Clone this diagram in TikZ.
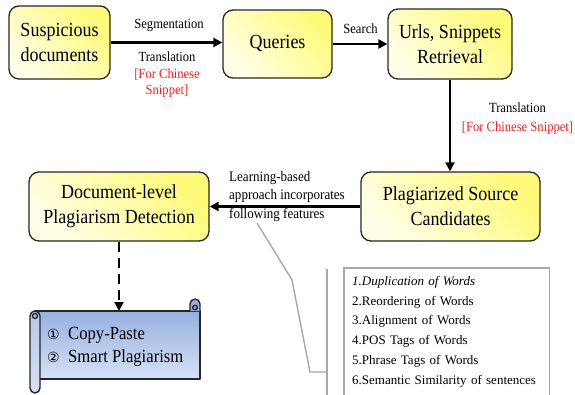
\documentclass[tikz,border=0pt]{standalone}
\usepackage{fontspec}
\setmainfont{Liberation Serif}
\newfontfamily\condfont{Liberation Serif}[FakeStretch=0.9]
\newfontfamily\symfont{DejaVu Sans}
\usetikzlibrary{arrows.meta}

\definecolor{ylo}{RGB}{255,255,232}
\definecolor{yhi}{RGB}{255,250,120}
\definecolor{featgray}{RGB}{168,168,168}
\definecolor{notered}{RGB}{255,32,32}
\definecolor{scrtop}{RGB}{150,176,224}
\definecolor{scrbot}{RGB}{214,225,245}

\begin{document}
\begin{tikzpicture}[x=1pt,y=-1pt,
  stage/.style={draw=black!85, line width=1.3pt, rounded corners=10pt,
    top color=yhi, bottom color=ylo, shading angle=-45, align=center,
    font=\condfont\fontsize{20}{25}\selectfont, inner sep=2pt},
  lbl/.style={inner sep=0pt, font=\condfont\fontsize{14}{16.5}\selectfont},
  arr/.style={line width=2.4pt, -{Triangle[length=9pt,width=9pt]}},
  callout/.style={draw=featgray, line width=1.4pt},
  scrollline/.style={draw=black!85, line width=1.4pt, line join=round}]

\useasboundingbox (0,0) rectangle (575,395);

% process stages
\node[stage, minimum width=101pt, minimum height=73pt] (susp) at (59.5,42.5) {Suspicious\\documents};
\node[stage, minimum width=109pt, minimum height=68pt] (qry) at (277.5,44) {Queries};
\node[stage, minimum width=124pt, minimum height=70pt] (urls) at (450,44) {Urls, Snippets\\Retrieval};
\node[stage, minimum width=179pt, minimum height=69pt] (cand) at (450.5,206.5) {Plagiarized Source\\Candidates};
\node[stage, minimum width=180pt, minimum height=69pt] (det) at (119,206.5) {Document-level\\Plagiarism Detection};

% edge labels
\node[lbl] (segm) at (169,25) {Segmentation};
\node[lbl, align=center] (trans1) at (167,75) {Translation\\\textcolor{notered}{[For Chinese}\\\textcolor{notered}{Snippet]}};
\node[lbl] (srch) at (360.5,29) {Search};
\node[lbl, align=center, font=\condfont\fontsize{14}{19}\selectfont] (trans2) at (517.5,118.5) {Translation\\\textcolor{notered}{[For Chinese Snippet]}};
\node[lbl, align=left, anchor=west, font=\condfont\fontsize{14.5}{18.5}\selectfont] (learn) at (229,196.5) {Learning-based\\approach incorporates\\following features};

% connectors
\draw[arr] (susp.east) -- (susp.east -| qry.west);
\draw[arr] (qry.east) -- (qry.east -| urls.west);
\draw[arr] (urls.south) -- (urls.south |- cand.north);
\draw[arr] (cand.west) -- (cand.west -| det.east);

% result scroll
\coordinate (rolltop) at (118,311);
\draw[arr, dash pattern=on 10pt off 6pt] (det.south) -- (det.south |- rolltop);

\path[scrollline, top color=scrtop, bottom color=scrbot]
  (35,311) -- (200,311) -- (200,379) -- (35,379) -- cycle;
% right curl
\path[scrollline, fill=scrtop]
  (190,311) -- (190,304) arc[start angle=180, end angle=360, radius=5] -- (200,311);
\draw[scrollline] (195,307.5) circle[radius=2.3];
% left roll
\path[scrollline, top color=scrtop!70!white, bottom color=scrbot]
  (30,316) -- (30,388) arc[start angle=180, end angle=0, radius=5] -- (40,316)
  arc[start angle=0, end angle=-180, radius=5] -- cycle;
\draw[scrollline] (35,316) circle[radius=2.5];

\node[inner sep=0pt, align=left, anchor=west, font=\condfont\fontsize{18.5}{23}\selectfont] (kinds) at (47,346.5)
  {\makebox[21pt][l]{\symfont\fontsize{14}{14}\selectfont ①}Copy-Paste\\
   \makebox[21pt][l]{\symfont\fontsize{14}{14}\selectfont ②}Smart Plagiarism};

% feature list
\node[anchor=north west, minimum width=205pt, minimum height=127pt, align=left,
  text width=189pt, inner xsep=8pt, inner ysep=0pt, font=\fontsize{13}{19.8}\selectfont] (feat) at (344,268)
  {\textit{1.Duplication of Words}\\2.Reordering of Words\\3.Alignment of Words\\4.POS Tags of Words\\5.Phrase Tags of Words\\6.Semantic Similarity of sentences};
\draw[callout] (feat.south west) -- (feat.north west) -- (feat.north east) -- (feat.south east);

% callout from the feature label to the list
\coordinate (c1) at (257,223);
\coordinate (c2) at (292,280);
\coordinate (c3) at (310,372);
\coordinate (c4) at (327,372);
\coordinate (b1) at (327,269);
\coordinate (b2) at (327,395);
\draw[callout] (c1) -- (c2) -- (c3) -- (c4);
\draw[callout] (b1) -- (b2);

\end{tikzpicture}
\end{document}
